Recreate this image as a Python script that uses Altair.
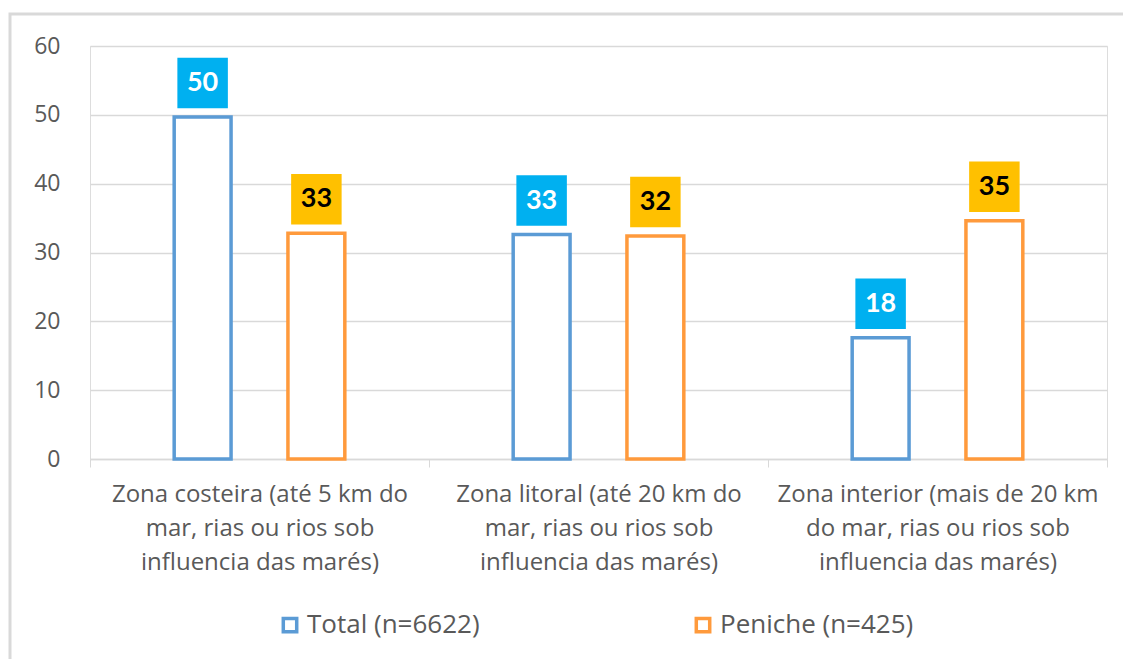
import altair as alt
import pandas as pd

categories = [
    "Zona costeira (até 5 km do|mar, rias ou rios sob|influencia das marés)",
    "Zona litoral (até 20 km do|mar, rias ou rios sob|influencia das marés)",
    "Zona interior (mais de 20 km|do mar, rias ou rios sob|influencia das marés)",
]
series = ["Total (n=6622)", "Peniche (n=425)"]
total_values = [49.7, 32.6, 17.6]
peniche_values = [32.8, 32.4, 34.6]
total_labels = ["50", "33", "18"]
peniche_labels = ["33", "32", "35"]

rows = []
for i, c in enumerate(categories):
    rows.append({"cat": c, "series": series[0], "value": total_values[i], "label": total_labels[i]})
    rows.append({"cat": c, "series": series[1], "value": peniche_values[i], "label": peniche_labels[i]})
df = pd.DataFrame(rows)

FONT = "Open Sans"
GRAY = "#595959"

x_enc = alt.X("cat:N", sort=categories, title=None,
              scale=alt.Scale(paddingInner=0, paddingOuter=0),
              axis=alt.Axis(labelExpr="split(datum.label, '|')", labelAngle=0,
                            labelFontSize=24, labelColor=GRAY, labelFont=FONT, labelLimit=0,
                            labelLineHeight=34, labelPadding=15, labelBaseline="top",
                            tickBand="extent", tickSize=8, tickColor="#D9D9D9",
                            domainColor="#D9D9D9", domainWidth=1.5, grid=False))
xoff = alt.XOffset("series:N", sort=series,
                   scale=alt.Scale(domain=series, paddingInner=0.5, paddingOuter=0.74))
y_enc = alt.Y("value:Q", title=None,
              scale=alt.Scale(domain=[0, 60], nice=False),
              axis=alt.Axis(values=[0, 10, 20, 30, 40, 50, 60], labelFontSize=23,
                            labelColor=GRAY, labelFont=FONT, labelPadding=30,
                            domain=False, ticks=False, gridColor="#D9D9D9", gridWidth=1.5))

frame = alt.Chart(pd.DataFrame({"f": [0]})).mark_rect(
    fill=None, stroke="#D9D9D9", strokeWidth=3, clip=False
).encode(x=alt.value(-80), x2=alt.value(1100), y=alt.value(-32), y2=alt.value(700))

bars = alt.Chart(df).mark_bar(fill="white", strokeWidth=3.5).encode(
    x=x_enc, xOffset=xoff, y=y_enc,
    stroke=alt.Stroke("series:N", sort=series,
                      scale=alt.Scale(domain=series, range=["#5B9BD5", "#FF9A3C"]),
                      legend=alt.Legend(title=None, orient="none", legendX=187, legendY=566,
                                        direction="horizontal", symbolType="square",
                                        symbolSize=180, symbolStrokeWidth=3.5,
                                        symbolFillColor="white", labelFontSize=26,
                                        labelFont=FONT, labelColor=GRAY, labelLimit=0,
                                        columnPadding=209, labelOffset=4)),
)

boxes = alt.Chart(df).mark_square(size=2550, opacity=1, yOffset=-34).encode(
    x=x_enc, xOffset=xoff, y=y_enc,
    fill=alt.condition(alt.datum.series == series[0], alt.value("#00B0F0"), alt.value("#FFC000")),
)

texts = alt.Chart(df).mark_text(fontSize=27, fontWeight="bold", font="Lato", dy=-34,
                                align="center", baseline="middle").encode(
    x=x_enc, xOffset=xoff, y=y_enc, text="label:N",
    color=alt.condition(alt.datum.series == series[0], alt.value("white"), alt.value("black")),
)

chart = alt.layer(frame, bars, boxes, texts).properties(
    width=1017, height=413,
    autosize=alt.AutoSizeParams(type="none"),
    padding={"left": 82, "top": 38, "right": 16, "bottom": 200},
).configure_view(stroke=None).configure(background="white")

chart.save("out.html", embed_options={"renderer": "svg", "actions": False})
